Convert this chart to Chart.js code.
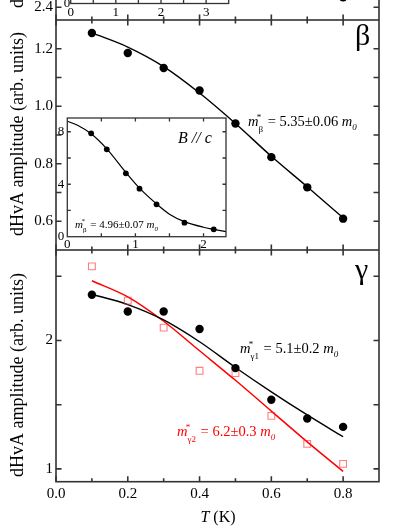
<!DOCTYPE html>
<html>
<head>
<meta charset="utf-8">
<script src="https://cdn.jsdelivr.net/npm/chart.js@4.4.1/dist/chart.umd.min.js"></script>
<style>
  body { margin: 0; background: #fff; }
  #fig { position: relative; width: 409px; height: 529px; overflow: hidden; background: #fff; }
  #fig canvas { position: absolute; left: 0; }
</style>
</head>
<body>
<div id="fig">
  <canvas id="strip" width="409" height="228" style="top:-208px"></canvas>
  <canvas id="beta" width="409" height="230" style="top:20px"></canvas>
  <canvas id="gamma" width="409" height="279" style="top:250px"></canvas>
  <canvas id="topInset" width="409" height="120" style="top:-100px"></canvas>
  <canvas id="betaInset" width="409" height="150" style="top:100px"></canvas>
</div>
<script>
// temperatures (K) of the measured points
const temps = [0.1, 0.2, 0.3, 0.4, 0.5, 0.6, 0.7, 0.8];

// panel above, cut off: only the foot of its last point shows
const stripT = [0.8];
const stripAmp = [2.45];

// beta branch
const betaAmp = [1.255, 1.185, 1.133, 1.055, 0.940, 0.823, 0.718, 0.609];
const betaFit = [1.255, 1.206, 1.138, 1.046, 0.940, 0.826, 0.720, 0.612];

// gamma branches
const gamma1Amp = [2.356, 2.226, 2.226, 2.089, 1.785, 1.538, 1.392, 1.327];
const gamma1Fit = [2.36, 2.28, 2.16, 1.99, 1.79, 1.60, 1.42, 1.25];
const gamma2Amp = [2.577, 2.31, 2.10, 1.764, 1.746, 1.413, 1.195, 1.039];
const gamma2Fit = [2.465, 2.34, 2.15, 1.92, 1.69, 1.45, 1.21, 0.98];

// inset (B // c)
const insetT = [0.35, 0.58, 0.86, 1.06, 1.31, 1.72, 2.15];
const insetAmp = [7.88, 6.66, 4.83, 3.66, 2.47, 1.07, 0.56];
const insetFitT = [0, 0.15, 0.35, 0.58, 0.86, 1.06, 1.31, 1.5, 1.72, 2.0, 2.15, 2.33];
const insetFit = [8.8, 8.5, 7.85, 6.7, 4.9, 3.7, 2.5, 1.72, 1.15, 0.72, 0.56, 0.38];

// tick labels
const xTickLabels = [0, 0.2, 0.4, 0.6, 0.8];
const xTickMarks = [0.1, 0.3, 0.5, 0.7];
const betaTickLabels = [0.6, 0.8, 1.0, 1.2];
const betaTickMarks = [0.6, 0.7, 0.8, 0.9, 1.0, 1.1, 1.2];
const gammaTickLabels = [1, 2];
const gammaTickMarks = [1, 1.5, 2, 2.5];
const stripTickLabels = [2.4];
const insetXTicks = [0, 1, 2];
const insetXMarks = [0.5, 1, 1.5, 2];
const insetYTicks = [0, 4, 8];
const insetYMarks = [2, 4, 6, 8];
const topInsetXTicks = [0, 1, 2, 3];
const topInsetXMarks = [0.5, 1, 1.5, 2, 2.5, 3];

const SERIF = '"Liberation Serif", "Times New Roman", serif';
const toXY = (xs, ys) => xs.map((x, i) => ({ x: x, y: ys[i] }));

function frame(cfg) {
    return {
        id: 'frame',
        beforeDatasetsDraw(chart) {
            if (!cfg.fill) return;
            const a = chart.chartArea, ctx = chart.ctx;
            ctx.save();
            ctx.fillStyle = '#fff';
            ctx.fillRect(a.left, a.top, a.right - a.left, a.bottom - a.top);
            ctx.restore();
        },
        afterDatasetsDraw(chart) {
            const a = chart.chartArea, ctx = chart.ctx;
            const sx = chart.scales.x, sy = chart.scales.y;
            ctx.save();
            ctx.strokeStyle = '#333';
            ctx.lineWidth = cfg.width || 1.6;
            ctx.strokeRect(a.left, a.top, a.right - a.left, a.bottom - a.top);
            ctx.beginPath();
            const xt = (list, len) => (list || []).forEach(v => {
                const p = sx.getPixelForValue(v);
                ctx.moveTo(p, a.bottom); ctx.lineTo(p, a.bottom - len);
                ctx.moveTo(p, a.top); ctx.lineTo(p, a.top + len);
            });
            const yt = (list, len) => (list || []).forEach(v => {
                const p = sy.getPixelForValue(v);
                ctx.moveTo(a.left, p); ctx.lineTo(a.left + len, p);
                ctx.moveTo(a.right, p); ctx.lineTo(a.right - len, p);
            });
            xt(cfg.xMajor, cfg.major); xt(cfg.xMinor, cfg.minor);
            yt(cfg.yMajor, cfg.major);
            ctx.stroke();
            ctx.restore();
        }
    };
}

function axis(min, max, ticks, fmt, size, extent, pad) {
    return {
        type: 'linear', min: min, max: max,
        grid: { display: false, drawTicks: false },
        border: { display: false },
        afterBuildTicks: s => { s.ticks = ticks.map(v => ({ value: v })); },
        afterFit: s => {
            if (s.isHorizontal()) s.height = extent; else s.width = extent;
            s.paddingTop = 0; s.paddingBottom = 0; s.paddingLeft = 0; s.paddingRight = 0;
        },
        ticks: { display: ticks.length > 0, padding: pad, color: '#000', autoSkip: false, maxRotation: 0,
                 font: { family: SERIF, size: size }, callback: fmt }
    };
}

function panel(id, datasets, x, y, padding, frameCfg, text) {
    return new Chart(document.getElementById(id), {
        type: 'scatter',
        data: { datasets: datasets },
        options: {
            responsive: false, animation: false, devicePixelRatio: 1, events: [],
            layout: { padding: padding, autoPadding: false },
            plugins: { legend: { display: false }, tooltip: { enabled: false } },
            scales: { x: x, y: y }
        },
        plugins: [frame(frameCfg), { id: 'txt', afterDraw: c => { if (text) text(c.ctx, c); } }]
    });
}

// m*_sub = value m_0
function massLabel(ctx, x, y, sub, value, size, color) {
    ctx.save();
    ctx.fillStyle = color;
    ctx.textAlign = 'left';
    ctx.textBaseline = 'alphabetic';
    ctx.font = 'italic ' + size + 'px ' + SERIF;
    ctx.fillText('m', x, y);
    let cx = x + ctx.measureText('m').width;
    const small = Math.round(size * 0.65);
    ctx.font = small + 'px ' + SERIF;
    ctx.fillText('*', cx - size * 0.12, y - size * 0.42);
    ctx.fillText(sub, cx, y + size * 0.38);
    cx += ctx.measureText(sub).width + 1;
    ctx.font = size + 'px ' + SERIF;
    const mid = ' = ' + value + ' ';
    ctx.fillText(mid, cx, y);
    cx += ctx.measureText(mid).width;
    ctx.font = 'italic ' + size + 'px ' + SERIF;
    ctx.fillText('m', cx, y);
    cx += ctx.measureText('m').width;
    ctx.font = 'italic ' + small + 'px ' + SERIF;
    ctx.fillText('0', cx, y + size * 0.3);
    ctx.restore();
}

function yTitle(ctx, cx, cy, size) {
    ctx.save();
    ctx.fillStyle = '#000';
    ctx.font = size + 'px ' + SERIF;
    ctx.textAlign = 'center';
    ctx.textBaseline = 'middle';
    ctx.translate(cx, cy);
    ctx.rotate(-Math.PI / 2);
    ctx.fillText('dHvA amplitude (arb. units)', 0, 0);
    ctx.restore();
}

const fmt1 = v => v.toFixed(1);
const fmt0 = v => String(v);
const TITLE = 18;
const dot = (data, r) => ({ data: data, showLine: false, pointRadius: r, pointBackgroundColor: '#000', pointBorderWidth: 0 });
const fitLine = (data, color, w) => ({ data: data, showLine: true, pointRadius: 0, borderColor: color, borderWidth: w, cubicInterpolationMode: 'monotone' });

// strip of the panel above (only its bottom edge is visible)
const stripPx = 200;
panel('strip', [dot(toXY(stripT, stripAmp), 4.2)],
    axis(0, 0.9, [], fmt1, 15, 0, 0),
    axis(2.4 - 12.7 / stripPx, 2.4 - 12.7 / stripPx + 228 / stripPx, stripTickLabels, fmt1, 15, 56, 3),
    { left: 0, right: 30, top: 0, bottom: 0 },
    { xMajor: xTickLabels, xMinor: xTickMarks, yMajor: stripTickLabels, major: 5.5, minor: 3.5 },
    ctx => {
        ctx.save();
        ctx.font = TITLE + 'px ' + SERIF;
        const len = ctx.measureText('dHvA amplitude (arb. units)').width;
        ctx.restore();
        yTitle(ctx, 18, 216 - len / 2, TITLE);
    });

panel('topInset', [],
    axis(0, 3.5, topInsetXTicks, fmt0, 13, 16.5, 1),
    axis(0, 10, [0], fmt0, 13, 70.7, 0.5),
    { left: 0, right: 180.3, top: 0, bottom: 0 },
    { fill: true, width: 1.3, xMajor: topInsetXMarks, major: 3.5, minor: 2.5 });

// beta panel
panel('beta', [
        dot(toXY(temps, betaAmp), 4.2),
        fitLine(toXY(temps, betaFit), '#000', 1.4)
    ],
    axis(0, 0.9, [], fmt1, 15, 0, 0),
    axis(0.5, 1.3, betaTickLabels, fmt1, 15, 56, 3),
    { left: 0, right: 30, top: 0, bottom: 0 },
    { xMajor: xTickLabels, xMinor: xTickMarks, yMajor: betaTickMarks, major: 5.5, minor: 3.5 },
    ctx => {
        yTitle(ctx, 18, 114, TITLE);
        ctx.save();
        ctx.fillStyle = '#000';
        ctx.font = '30px ' + SERIF;
        ctx.fillText('\u03b2', 355, 25);
        ctx.restore();
        massLabel(ctx, 248, 106, '\u03b2', '5.35\u00b10.06', 14.5, '#000');
    });

panel('betaInset', [
        dot(toXY(insetT, insetAmp), 2.9),
        fitLine(toXY(insetFitT, insetFit), '#000', 1.2)
    ],
    axis(0, 2.33, insetXTicks, fmt0, 13, 13.3, 0),
    axis(0, 9.05, insetYTicks, fmt0, 13, 67.3, 3),
    { left: 0, right: 183, top: 18, bottom: 0 },
    { fill: true, width: 1.3, xMajor: insetXMarks, yMajor: insetYMarks, major: 3.5, minor: 2.5 },
    ctx => {
        ctx.save();
        ctx.fillStyle = '#000';
        ctx.font = 'italic 16px ' + SERIF;
        ctx.fillText('B // c', 178, 43);
        ctx.restore();
        massLabel(ctx, 75, 128, '\u03b2', '4.96\u00b10.07', 11, '#000');
    });

// gamma panel
panel('gamma', [
        dot(toXY(temps, gamma1Amp), 4.2),
        { data: toXY(temps, gamma2Amp), showLine: false, pointStyle: 'rect', pointRadius: 4.8,
          pointBackgroundColor: 'rgba(0,0,0,0)', pointBorderColor: 'rgba(255,40,40,0.6)', pointBorderWidth: 1.1 },
        fitLine(toXY(temps, gamma1Fit), '#000', 1.4),
        fitLine(toXY(temps, gamma2Fit), '#ff0000', 1.5)
    ],
    axis(0, 0.9, xTickLabels, fmt1, 15, 47.3, 3),
    axis(0.9, 2.705, gammaTickLabels, fmt0, 15, 56, 3),
    { left: 0, right: 30, top: 0, bottom: 0 },
    { xMajor: xTickLabels, xMinor: xTickMarks, yMajor: gammaTickMarks, major: 5.5, minor: 3.5 },
    ctx => {
        yTitle(ctx, 18, 125, TITLE);
        ctx.save();
        ctx.fillStyle = '#000';
        ctx.font = '30px ' + SERIF;
        ctx.fillText('\u03b3', 355, 29);
        // x axis title
        ctx.font = 'italic 16px ' + SERIF;
        const wT = ctx.measureText('T').width;
        ctx.font = '16px ' + SERIF;
        const wK = ctx.measureText(' (K)').width;
        const x0 = 218 - (wT + wK) / 2;
        ctx.font = 'italic 16px ' + SERIF;
        ctx.fillText('T', x0, 272);
        ctx.font = '16px ' + SERIF;
        ctx.fillText(' (K)', x0 + wT, 272);
        ctx.restore();
        massLabel(ctx, 240, 103, '\u03b31', '5.1\u00b10.2', 14.5, '#000');
        massLabel(ctx, 177, 186, '\u03b32', '6.2\u00b10.3', 14.5, '#ff0000');
    });
</script>
</body>
</html>
